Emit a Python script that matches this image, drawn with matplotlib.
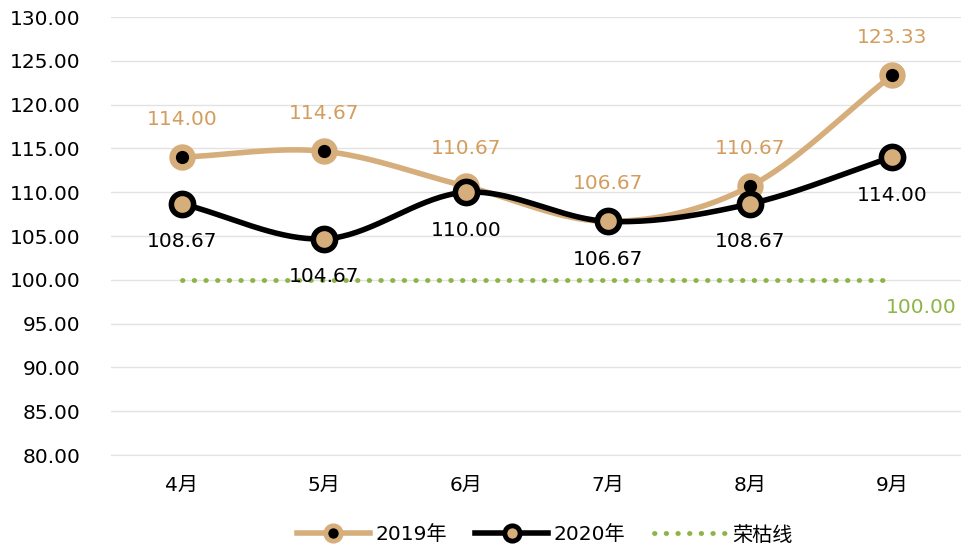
import numpy as np
import matplotlib.pyplot as plt
from matplotlib.lines import Line2D

plt.rcParams['font.family'] = ['DejaVu Sans', 'Noto Sans CJK SC']

months = ['4月', '5月', '6月', '7月', '8月', '9月']
y2019 = [114.00, 114.67, 110.67, 106.67, 110.67, 123.33]
y2020 = [108.67, 104.67, 110.00, 106.67, 108.67, 114.00]
baseline = [100.00] * 6

tan = '#D6AE7B'
tan_txt = '#D39D5E'
green = '#8DB446'
fs = 14.5


def smooth(xs, ys, n=40):
    # catmull-rom style smoothing like excel's smoothed line
    xs = np.asarray(xs, float)
    ys = np.asarray(ys, float)
    px = np.concatenate([[2 * xs[0] - xs[1]], xs, [2 * xs[-1] - xs[-2]]])
    py = np.concatenate([[2 * ys[0] - ys[1]], ys, [2 * ys[-1] - ys[-2]]])
    outx, outy = [], []
    for i in range(1, len(px) - 2):
        t = np.linspace(0, 1, n)
        for p, out in ((px, outx), (py, outy)):
            p0, p1, p2, p3 = p[i - 1], p[i], p[i + 1], p[i + 2]
            out.extend(0.5 * ((2 * p1) + (-p0 + p2) * t
                              + (2 * p0 - 5 * p1 + 4 * p2 - p3) * t ** 2
                              + (-p0 + 3 * p1 - 3 * p2 + p3) * t ** 3))
    return outx, outy


fig = plt.figure(figsize=(9.61, 5.52), dpi=100)
ax = fig.add_axes([111 / 961, 1 - 455 / 552, 852 / 961, 438 / 552])

x = np.arange(len(months))

ax.plot(x, baseline, color=green, linestyle=(0, (0.1, 2.3)), linewidth=3.5,
        dash_capstyle='round', zorder=2)

sx, sy = smooth(x, y2019)
ax.plot(sx, sy, color=tan, linewidth=4, zorder=3, solid_capstyle='round')
ax.plot(x, y2019, 'o', ms=18, mfc=tan, mec=tan, zorder=4)
ax.plot(x, y2019, 'o', ms=8.5, mfc='black', mec='black', zorder=5)

sx, sy = smooth(x, y2020)
ax.plot(sx, sy, color='black', linewidth=4, zorder=3, solid_capstyle='round')
ax.plot(x, y2020, 'o', ms=16, mfc=tan, mec='black', mew=4, zorder=6)

for xi, v in zip(x, y2019):
    ax.annotate(f'{v:.2f}', (xi, v), xytext=(0, 38), textcoords='offset pixels',
                ha='center', va='center', color=tan_txt, fontsize=fs)
for xi, v in zip(x, y2020):
    ax.annotate(f'{v:.2f}', (xi, v), xytext=(0, -38), textcoords='offset pixels',
                ha='center', va='center', color='black', fontsize=fs)
ax.annotate(f'{baseline[-1]:.2f}', (x[-1], baseline[-1]), xytext=(29, -28),
            textcoords='offset pixels', ha='center', va='center',
            color=green, fontsize=fs)

ax.set_xlim(-0.5, 5.5)
ax.set_ylim(80, 130)
ax.set_yticks(np.arange(80, 131, 5))
ax.set_yticklabels([f'{v:.2f}' for v in np.arange(80, 131, 5)])
ax.set_xticks(x)
ax.set_xticklabels(months)
ax.tick_params(axis='both', length=0, labelsize=fs)
ax.tick_params(axis='y', pad=22)
ax.tick_params(axis='x', pad=15)
ax.grid(axis='y', color='#E3E3E3', linewidth=1)
ax.set_axisbelow(True)
for s in ax.spines.values():
    s.set_visible(False)
ax.spines['bottom'].set_visible(True)
ax.spines['bottom'].set_color('#E3E3E3')

handles = [
    Line2D([], [], color=tan, linewidth=4, marker='o', ms=11, mfc='black',
           mec=tan, mew=3.5),
    Line2D([], [], color='black', linewidth=4, marker='o', ms=11, mfc=tan,
           mec='black', mew=3.5),
    Line2D([], [], color=green, linestyle=(0, (0.1, 2.3)), linewidth=3.5,
           dash_capstyle='round'),
]
fig.legend(handles, ['2019年', '2020年', '荣枯线'], loc='center',
           bbox_to_anchor=(0.567, 1 - 535 / 552), ncol=3, frameon=False,
           fontsize=fs, handlelength=3.6, columnspacing=1.4, handletextpad=0.3)

fig.savefig('out.png', dpi=100)
